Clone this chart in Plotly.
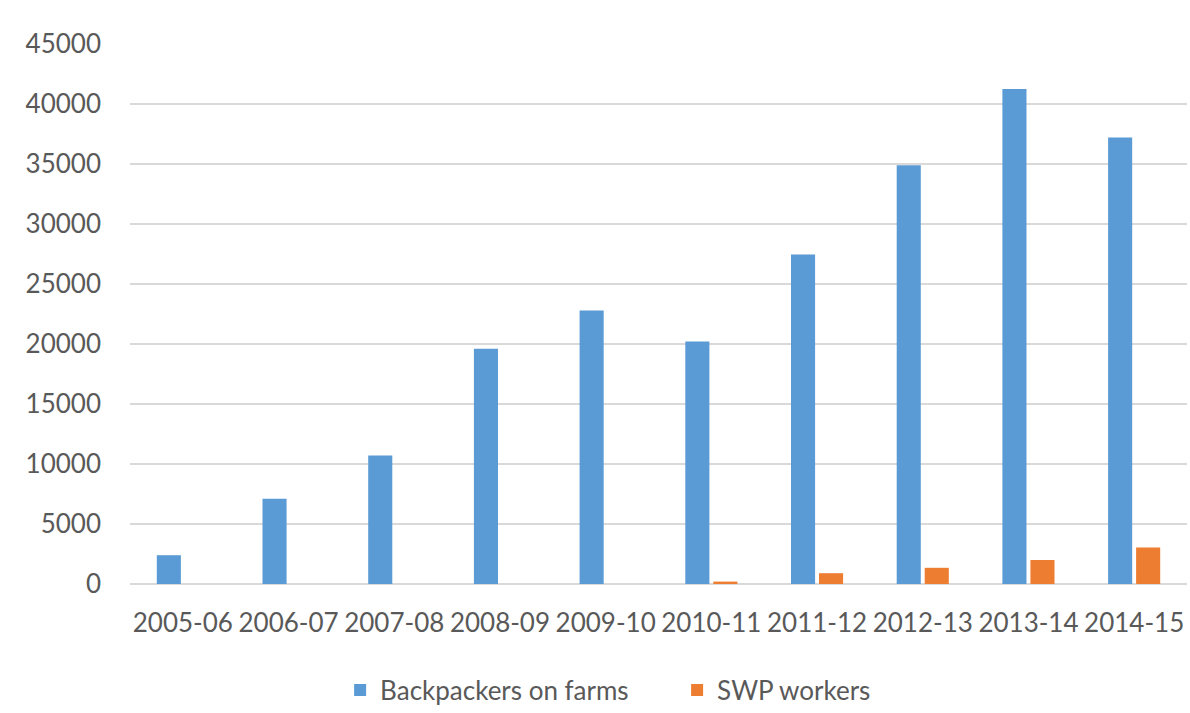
import plotly.graph_objects as go

years = ["2005-06", "2006-07", "2007-08", "2008-09", "2009-10",
         "2010-11", "2011-12", "2012-13", "2013-14", "2014-15"]
backpackers = [2400, 7100, 10700, 19600, 22800, 20200, 27450, 34900, 41250, 37200]
swp = [0, 0, 0, 0, 0, 200, 900, 1350, 2000, 3050]
y_ticks = [0, 5000, 10000, 15000, 20000, 25000, 30000, 35000, 40000, 45000]

FONT = "Lato"
GRAY = "#595959"

fig = go.Figure()
fig.add_trace(go.Bar(x=years, y=backpackers, name="Backpackers on farms",
                     marker=dict(color="#5B9BD5", line=dict(width=0))))
fig.add_trace(go.Bar(x=years, y=swp, name="SWP workers",
                     marker=dict(color="#ED7D31", line=dict(width=0))))

fig.update_layout(
    width=1190, height=713,
    margin=dict(l=130, r=3, t=44, b=129, autoexpand=False),
    paper_bgcolor="white", plot_bgcolor="white",
    barmode="group", bargap=0.47, bargroupgap=0.14,
    font=dict(family=FONT, size=25, color=GRAY),
    showlegend=True,
    legend=dict(orientation="h", xref="container", yref="container",
                x=0.569, xanchor="center", y=0.032, yanchor="middle",
                font=dict(family=FONT, size=26, color=GRAY),
                entrywidth=292, entrywidthmode="pixels",
                itemsizing="constant", traceorder="normal"),
    xaxis=dict(type="category", showgrid=False, showline=False, ticks="", tickangle=0,
               tickfont=dict(family=FONT, size=26, color=GRAY),
               ticklabelstandoff=21),
    yaxis=dict(range=[0, 45000], tickvals=y_ticks, ticktext=[str(v) for v in y_ticks],
               showgrid=True,
               gridcolor="#D9D9D9", gridwidth=1.5, zeroline=True,
               zerolinecolor="#D9D9D9", zerolinewidth=1.5, showline=False,
               ticks="", tickfont=dict(family=FONT, size=26, color=GRAY),
               ticklabelstandoff=28),
)

fig.write_html("out.html")
